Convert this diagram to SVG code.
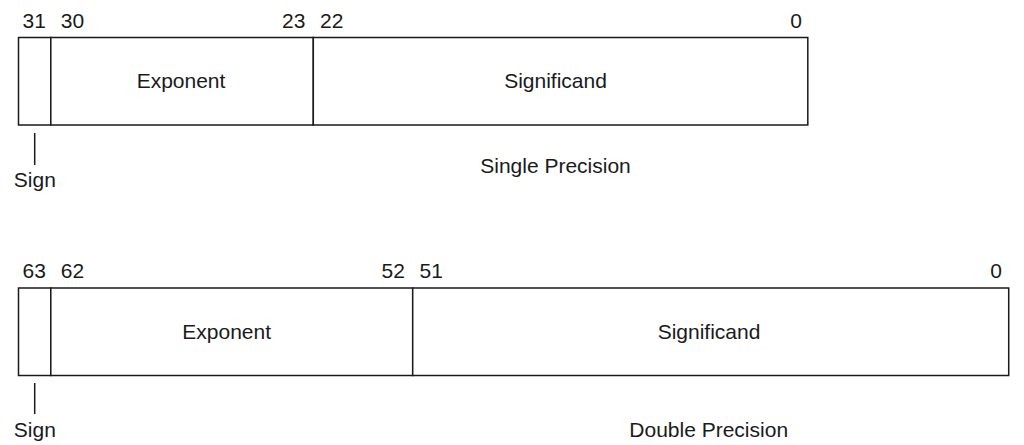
<svg xmlns="http://www.w3.org/2000/svg" width="1024" height="445" viewBox="0 0 1024 445">
<style>
.box{fill:#fff;stroke:#1a1a1a;stroke-width:1.5}
.ln{stroke:#1a1a1a;stroke-width:1.5;fill:none}
text{font-family:"Liberation Sans",Arial,sans-serif;font-size:21px;fill:#1a1a1a;text-anchor:middle}
</style>
<rect width="1024" height="445" fill="#fff"/>
<g id="single">
  <g id="single-sign"><rect class="box" x="18.5" y="37.5" width="32.3" height="87.5"/></g>
  <g id="single-exponent"><rect class="box" x="50.8" y="37.5" width="262.5" height="87.5"/><text x="181" y="88.3">Exponent</text></g>
  <g id="single-significand"><rect class="box" x="313.3" y="37.5" width="494.5" height="87.5"/><text x="555.5" y="88.3">Significand</text></g>
  <g id="single-bits">
    <text x="34.3" y="27.5">31</text>
    <text x="72.5" y="27.5">30</text>
    <text x="293.7" y="27.5">23</text>
    <text x="331.7" y="27.5">22</text>
    <text x="796" y="27.5">0</text>
  </g>
  <text x="34.8" y="187.3">Sign</text>
  <text x="555.5" y="173.3">Single Precision</text>
</g>
<g id="double">
  <g id="double-sign"><rect class="box" x="18.5" y="288" width="32.3" height="87.5"/></g>
  <g id="double-exponent"><rect class="box" x="50.8" y="288" width="361.9" height="87.5"/><text x="226.7" y="339">Exponent</text></g>
  <g id="double-significand"><rect class="box" x="412.7" y="288" width="596" height="87.5"/><text x="709" y="339">Significand</text></g>
  <g id="double-bits">
    <text x="34.3" y="278.3">63</text>
    <text x="72.5" y="278.3">62</text>
    <text x="393.3" y="278.3">52</text>
    <text x="431.3" y="278.3">51</text>
    <text x="996" y="278.3">0</text>
  </g>
  <text x="34.8" y="437.3">Sign</text>
  <text x="708.7" y="436.7">Double Precision</text>
</g>
<g id="connectors">
  <line class="ln" x1="34.7" y1="133" x2="34.7" y2="165"/>
  <line class="ln" x1="34.7" y1="383" x2="34.7" y2="414"/>
</g>
</svg>
